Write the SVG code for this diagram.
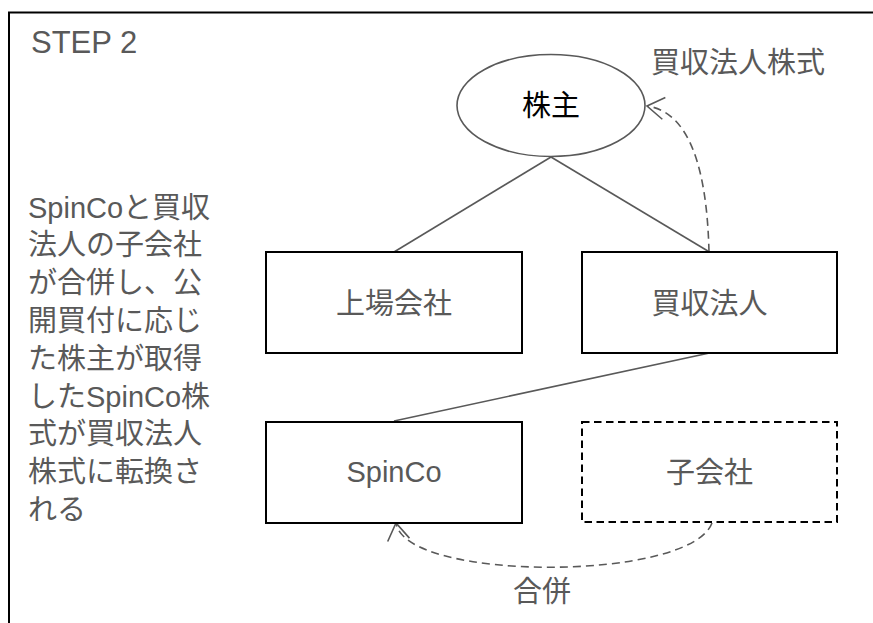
<svg xmlns="http://www.w3.org/2000/svg" width="873" height="623" viewBox="0 0 873 623">
<style>
  .t { font-family: "Liberation Sans", "Noto Sans CJK JP", sans-serif; font-size: 29px; fill: #595959; }
  .box { fill: #ffffff; stroke: #000000; stroke-width: 2; }
  .dbox { fill: #ffffff; stroke: #000000; stroke-width: 2; stroke-dasharray: 7.5 4.5; }
  .ln { fill: none; stroke: #595959; stroke-width: 1.6; }
  .dl { fill: none; stroke: #595959; stroke-width: 1.6; stroke-dasharray: 8 5; }
</style>
<defs>
  <marker id="open" markerUnits="userSpaceOnUse" viewBox="-20 -14 22 28" refX="0" refY="0" markerWidth="22" markerHeight="28" orient="auto" overflow="visible">
    <path d="M -17 -11 L 0 0 L -17 11" fill="none" stroke="#595959" stroke-width="1.6"/>
  </marker>
</defs>
<rect width="873" height="623" fill="#ffffff"/>
<g id="frame">
  <path d="M 9 640 V 12.5 H 900" fill="none" stroke="#000000" stroke-width="2"/>
  <text class="t" x="31" y="53" style="font-size:31px">STEP 2</text>
</g>
<g id="description" class="t">
  <text x="28" y="217.5">SpinCoと買収</text>
  <text x="28" y="255.3">法人の子会社</text>
  <text x="28" y="293.1">が合併し、公</text>
  <text x="28" y="330.9">開買付に応じ</text>
  <text x="28" y="368.7">た株主が取得</text>
  <text x="28" y="406.5">したSpinCo株</text>
  <text x="28" y="444.3">式が買収法人</text>
  <text x="28" y="482.1">株式に転換さ</text>
  <text x="28" y="519.9">れる</text>
</g>
<g id="connectors">
  <line class="ln" x1="551" y1="157" x2="394" y2="252"/>
  <line class="ln" x1="551" y1="157" x2="709.5" y2="252"/>
  <line class="ln" x1="709.5" y1="353" x2="394" y2="421"/>
  <path class="dl" d="M 709 252 C 707 170 690 112 647 106" marker-end="url(#open)"/>
  <path class="dl" d="M 712 523 C 690 582 405 582 396 523" marker-end="url(#open)"/>
  <text class="t" x="542" y="601.5" text-anchor="middle">合併</text>
  <text class="t" x="738" y="72.5" text-anchor="middle">買収法人株式</text>
</g>
<g id="shareholders">
  <ellipse cx="551" cy="105.5" rx="94" ry="51" fill="#ffffff" stroke="#595959" stroke-width="1.6"/>
  <text class="t" x="551" y="115.5" text-anchor="middle" style="fill:#000000">株主</text>
</g>
<g id="listed">
  <rect class="box" x="266" y="252" width="256" height="101"/>
  <text class="t" x="394" y="313.5" text-anchor="middle">上場会社</text>
</g>
<g id="acquirer">
  <rect class="box" x="582" y="252" width="255" height="101"/>
  <text class="t" x="709.5" y="313.5" text-anchor="middle">買収法人</text>
</g>
<g id="spinco">
  <rect class="box" x="266" y="422" width="256" height="101"/>
  <text class="t" x="394" y="482" text-anchor="middle">SpinCo</text>
</g>
<g id="subsidiary">
  <rect class="dbox" x="582" y="422" width="255" height="100"/>
  <text class="t" x="709.5" y="483" text-anchor="middle">子会社</text>
</g>
</svg>
